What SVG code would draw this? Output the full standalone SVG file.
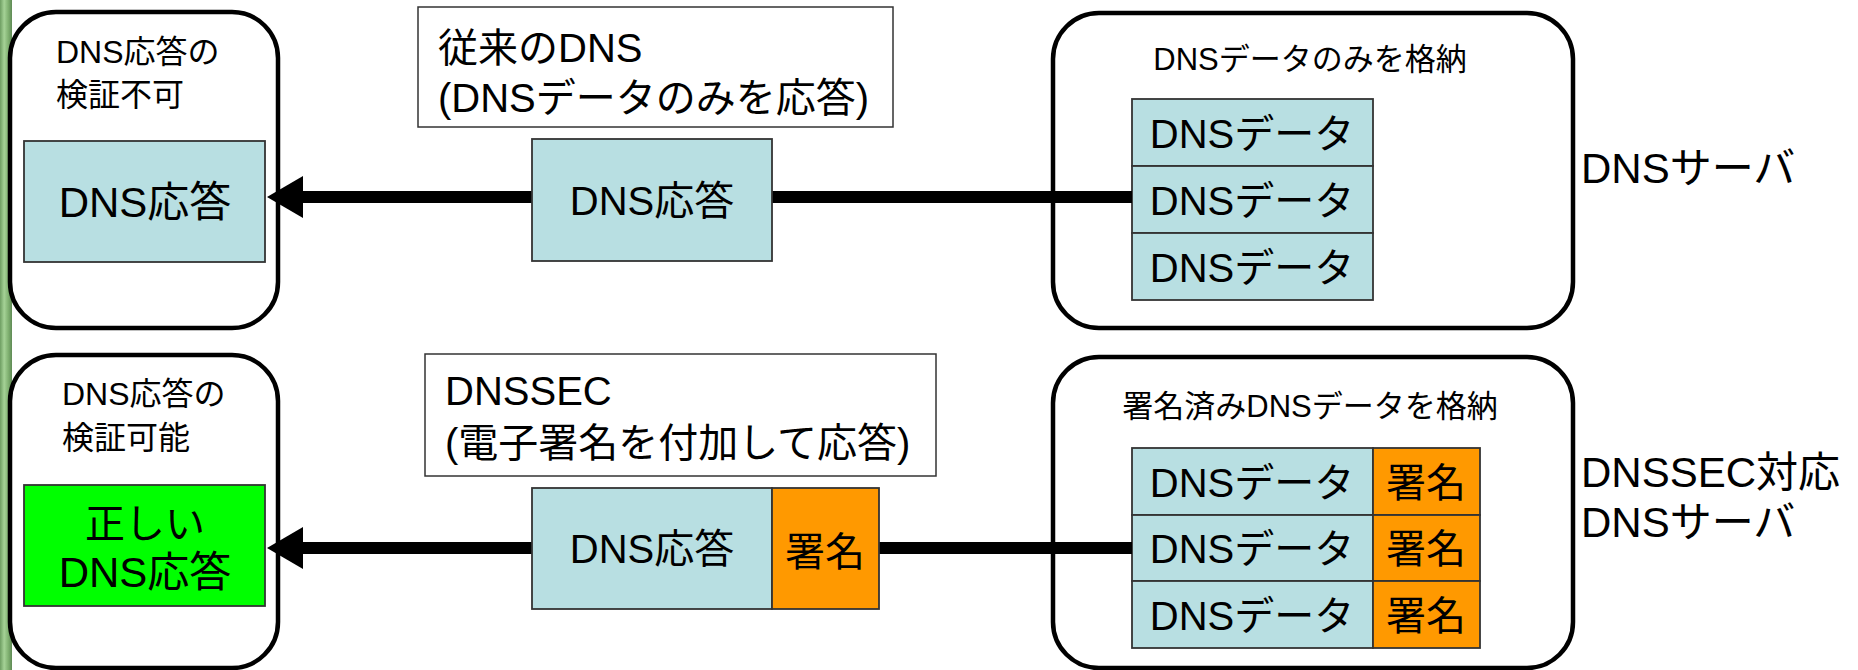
<svg xmlns="http://www.w3.org/2000/svg" width="1858" height="670" viewBox="0 0 1858 670">
<defs>
<linearGradient id="bar" x1="0" y1="0" x2="1" y2="0">
<stop offset="0" stop-color="#6e9e62"/>
<stop offset="0.35" stop-color="#a5d296"/>
<stop offset="0.7" stop-color="#7fb070"/>
<stop offset="1" stop-color="#5f8a55"/>
</linearGradient>
<style>
text{font-family:"Liberation Sans","Noto Sans CJK JP",sans-serif;fill:#000}
.big{font-size:40px}
.xbig{font-size:42px}
.cap{font-size:32px}
.scap{font-size:31px}
.mid{text-anchor:middle}
.round{fill:#fff;stroke:#000;stroke-width:4.5}
.lbl{fill:#fff;stroke:#333;stroke-width:1.5}
.blue{fill:#b8dfe2;stroke:#333;stroke-width:1.8}
.org{fill:#ff9900;stroke:#333;stroke-width:1.8}
.grn{fill:#00ff00;stroke:#333;stroke-width:1.8}
.conn{stroke:#000;stroke-width:12;fill:none}
</style>
</defs>
<rect x="0" y="0" width="1858" height="670" fill="#fff"/>
<rect x="0" y="0" width="12" height="670" fill="url(#bar)"/>

<g id="client-top">
<rect class="round" x="10" y="12" width="268" height="316" rx="46"/>
<text class="cap" x="56" y="63">DNS応答の</text>
<text class="cap" x="56" y="106">検証不可</text>
<rect class="blue" x="24" y="141" width="241" height="121"/>
<text class="xbig mid" x="145" y="217">DNS応答</text>
</g>

<g id="client-bottom">
<rect class="round" x="10" y="355" width="268" height="313" rx="46"/>
<text class="cap" x="62" y="405">DNS応答の</text>
<text class="cap" x="62" y="449">検証可能</text>
<rect class="grn" x="24" y="485" width="241" height="121"/>
<text class="big mid" x="145" y="538">正しい</text>
<text class="xbig mid" x="145" y="587">DNS応答</text>
</g>

<g id="server-top">
<rect class="round" x="1053" y="13" width="520" height="315" rx="46"/>
<text class="scap mid" x="1310" y="70">DNSデータのみを格納</text>
<rect class="blue" x="1132" y="99" width="241" height="67"/>
<rect class="blue" x="1132" y="166" width="241" height="67"/>
<rect class="blue" x="1132" y="233" width="241" height="67"/>
<text class="big mid" x="1252" y="148">DNSデータ</text>
<text class="big mid" x="1252" y="215">DNSデータ</text>
<text class="big mid" x="1252" y="282">DNSデータ</text>
</g>

<g id="server-bottom">
<rect class="round" x="1053" y="357" width="520" height="311" rx="46"/>
<text class="scap mid" x="1310" y="417">署名済みDNSデータを格納</text>
<rect class="blue" x="1132" y="448" width="241" height="67"/>
<rect class="blue" x="1132" y="515" width="241" height="66"/>
<rect class="blue" x="1132" y="581" width="241" height="67"/>
<rect class="org" x="1373" y="448" width="107" height="67"/>
<rect class="org" x="1373" y="515" width="107" height="66"/>
<rect class="org" x="1373" y="581" width="107" height="67"/>
<text class="big mid" x="1252" y="497">DNSデータ</text>
<text class="big mid" x="1252" y="563">DNSデータ</text>
<text class="big mid" x="1252" y="630">DNSデータ</text>
<text class="big mid" x="1426" y="497">署名</text>
<text class="big mid" x="1426" y="563">署名</text>
<text class="big mid" x="1426" y="630">署名</text>
</g>

<g id="connectors">
<line class="conn" x1="1132" y1="197" x2="300" y2="197"/>
<polygon points="267,197 303,176 303,218" fill="#000"/>
<line class="conn" x1="1132" y1="548" x2="300" y2="548"/>
<polygon points="267,548 303,527 303,569" fill="#000"/>
</g>

<g id="label-top">
<rect class="lbl" x="418" y="7" width="475" height="120"/>
<text class="big" x="438" y="62">従来のDNS</text>
<text class="big" x="438" y="112">(DNSデータのみを応答)</text>
</g>

<g id="label-bottom">
<rect class="lbl" x="425" y="354" width="511" height="122"/>
<text class="big" x="445" y="405">DNSSEC</text>
<text class="big" x="445" y="457">(電子署名を付加して応答)</text>
</g>

<g id="msg-top">
<rect class="blue" x="532" y="139" width="240" height="122"/>
<text class="big mid" x="652" y="215">DNS応答</text>
</g>

<g id="msg-bottom">
<rect class="blue" x="532" y="488" width="240" height="121"/>
<rect class="org" x="772" y="488" width="107" height="121"/>
<text class="big mid" x="652" y="563">DNS応答</text>
<text class="big mid" x="825" y="566">署名</text>
</g>

<g id="server-labels">
<text class="xbig" x="1581" y="183">DNSサーバ</text>
<text class="xbig" x="1581" y="487">DNSSEC対応</text>
<text class="xbig" x="1581" y="537">DNSサーバ</text>
</g>
</svg>
